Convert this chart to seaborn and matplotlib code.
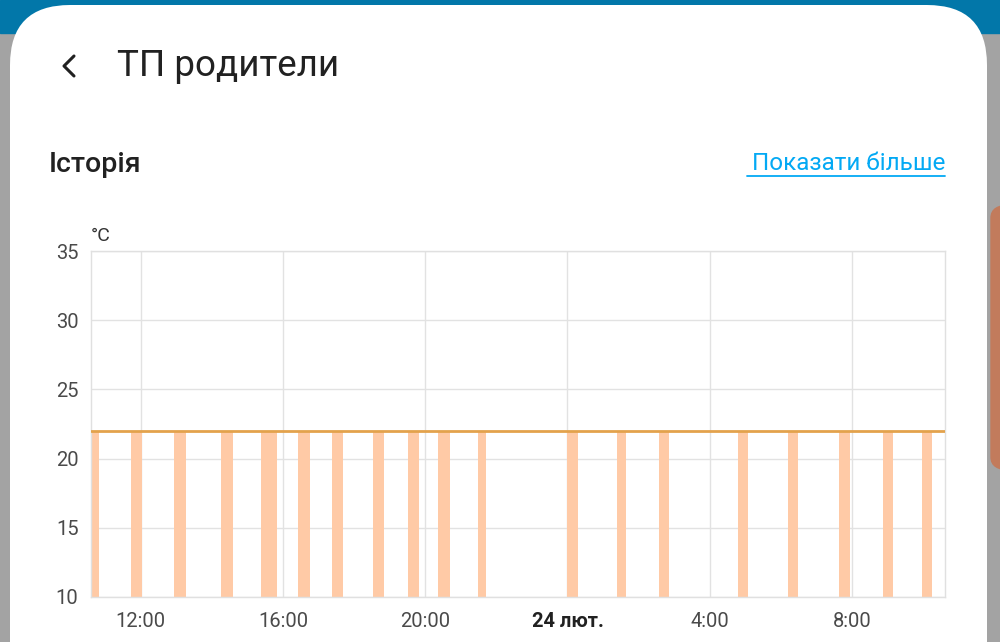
import matplotlib
matplotlib.use("Agg")
import matplotlib.pyplot as plt
import matplotlib.dates as mdates
from matplotlib.patches import FancyBboxPatch, Rectangle
from matplotlib.lines import Line2D
import seaborn as sns
import pandas as pd

# heating periods (start / end)
heat_start = ["2025-02-23 10:36", "2025-02-23 11:43", "2025-02-23 12:56", "2025-02-23 14:15",
              "2025-02-23 15:23", "2025-02-23 16:25", "2025-02-23 17:23", "2025-02-23 18:31",
              "2025-02-23 19:31", "2025-02-23 20:22", "2025-02-23 21:29", "2025-02-24 00:00",
              "2025-02-24 01:23", "2025-02-24 02:35", "2025-02-24 04:47", "2025-02-24 06:12",
              "2025-02-24 07:38", "2025-02-24 08:52", "2025-02-24 09:58"]
heat_end = ["2025-02-23 10:49", "2025-02-23 12:02", "2025-02-23 13:16", "2025-02-23 14:36",
            "2025-02-23 15:50", "2025-02-23 16:46", "2025-02-23 17:41", "2025-02-23 18:51",
            "2025-02-23 19:50", "2025-02-23 20:41", "2025-02-23 21:43", "2025-02-24 00:17",
            "2025-02-24 01:38", "2025-02-24 02:52", "2025-02-24 05:04", "2025-02-24 06:29",
            "2025-02-24 07:56", "2025-02-24 09:09", "2025-02-24 10:15"]
heat_temp = 22

# target temperature
target_time = ["2025-02-23 10:36", "2025-02-24 10:37"]
target_temp = [22, 22]

x_ticks = ["2025-02-23 12:00", "2025-02-23 16:00", "2025-02-23 20:00",
           "2025-02-24 00:00", "2025-02-24 04:00", "2025-02-24 08:00"]
x_labels = ["12:00", "16:00", "20:00", "24 лют.", "4:00", "8:00"]
y_ticks = [10, 15, 20, 25, 30, 35]

sns.set_style("white")
plt.rcParams['font.family'] = ['Roboto', 'DejaVu Sans']

W, H = 1000, 642
fig = plt.figure(figsize=(10, 6.42), dpi=100)
fig.patch.set_facecolor('#a3a3a3')


def fx(px):
    return px / W


def fy(py):
    return 1 - py / H


# page background pieces
fig.patches.append(Rectangle((0, fy(33)), 1, fy(0) - fy(33), transform=fig.transFigure,
                             color='#0277a9', zorder=0))
fig.patches.append(FancyBboxPatch((fx(991), fy(470)), fx(40), fy(205) - fy(470),
                                  boxstyle="round,pad=0,rounding_size=0.02",
                                  transform=fig.transFigure, color='#c27b5c', zorder=0))
card = FancyBboxPatch((fx(10), -0.2), fx(977), fy(5) + 0.2,
                      boxstyle="round,pad=0,rounding_size=0.06",
                      transform=fig.transFigure, facecolor='white', edgecolor='none',
                      mutation_aspect=W / H, zorder=1)
fig.patches.append(card)

# header
fig.lines.append(Line2D([fx(74), fx(64), fx(74)], [fy(56), fy(66), fy(76)],
                        transform=fig.transFigure, color='#212121', lw=2.2, zorder=3))
fig.text(fx(117), fy(66), "ТП родители", fontsize=26.5, color='#212121', va='center', ha='left', zorder=3)
fig.text(fx(49), fy(164), "Історія", fontsize=20.5, color='#212121', fontweight='medium',
         va='center', ha='left', zorder=3)
fig.text(fx(945), fy(164), "Показати більше", fontsize=17.5, color='#03a9f4',
         va='center', ha='right', zorder=3)
fig.lines.append(Line2D([fx(747), fx(945)], [fy(176), fy(176)], transform=fig.transFigure,
                        color='#03a9f4', lw=1.3, zorder=3))
fig.text(fx(91), fy(236), "°C", fontsize=14, color='#333333', va='center', ha='left', zorder=3)

ax = fig.add_axes([fx(91), fy(597), fx(945) - fx(91), fy(251) - fy(597)])
ax.set_zorder(2)
ax.patch.set_alpha(0)

x0 = mdates.date2num(pd.to_datetime(heat_start))
x1 = mdates.date2num(pd.to_datetime(heat_end))
ax.bar(x0, heat_temp - 10, width=x1 - x0, bottom=10,
       align='edge', color='#ffcaa6', edgecolor='none', zorder=2)

target = pd.DataFrame({'time': pd.to_datetime(target_time), 'temp': target_temp})
sns.lineplot(data=target, x='time', y='temp', ax=ax, color='#e3a24c', lw=2, zorder=3)

ax.set_xlim(pd.to_datetime(target_time[0]), pd.to_datetime(target_time[1]))
ax.set_ylim(10, 35)
ax.set_yticks(y_ticks)
ax.set_xticks(pd.to_datetime(x_ticks))
ax.set_xticklabels(x_labels)
ax.set_xlabel("")
ax.set_ylabel("")

ax.grid(True, color='#e2e2e2', lw=1)
ax.set_axisbelow(True)
for s in ax.spines.values():
    s.set_color('#e0e0e0')
    s.set_linewidth(1)
ax.tick_params(axis='both', colors='#e0e0e0', labelcolor='#4a4a4a', labelsize=14.5,
               length=6, width=1, pad=3)
ax.tick_params(axis='x', pad=5)
for lbl in ax.get_xticklabels():
    if lbl.get_text() == "24 лют.":
        lbl.set_fontweight('bold')
        lbl.set_color('#212121')

fig.savefig("out.png", dpi=100, facecolor=fig.get_facecolor())
